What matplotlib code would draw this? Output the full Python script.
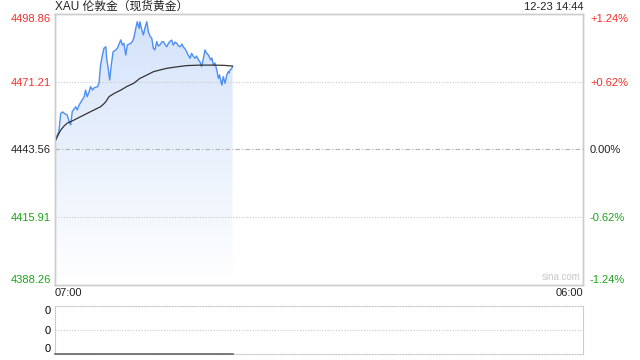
import numpy as np
import matplotlib
matplotlib.use("Agg")
import matplotlib.pyplot as plt
from matplotlib.colors import LinearSegmentedColormap
from matplotlib.patches import Polygon

plt.rcParams['font.family'] = ['Liberation Sans', 'Noto Sans CJK SC', 'DejaVu Sans']

title = "XAU 伦敦金（现货黄金）"
stamp = "12-23 14:44"

# minutes after 07:00, price
minutes = [0, 2, 10, 15, 20, 24, 32, 37, 41, 45, 50, 54, 58, 63, 71, 76, 80, 84, 89, 93,
           98, 102, 111, 115, 119, 124, 128, 133, 135, 139, 143, 147, 152, 159, 163, 172,
           176, 180, 185, 189, 198, 202, 206, 211, 215, 220, 222, 227, 231, 235, 240, 244,
           248, 253, 257, 261, 266, 270, 274, 279, 283, 287, 292, 297, 301, 305, 309, 314,
           318, 323, 327, 332, 335, 340, 344, 348, 353, 357, 361, 366, 370, 375, 379, 383,
           388, 392, 396, 401, 407, 410, 414, 418, 423, 427, 430, 434, 436, 438, 440, 442,
           444, 447, 449, 453, 455, 457, 461, 464]
prices = [4446.7, 4448.1, 4450.8, 4458.3, 4458.9, 4458.3, 4457.6, 4454.9, 4453.6, 4459.0,
          4460.1, 4461.0, 4459.7, 4461.7, 4463.8, 4465.0, 4467.8, 4465.1, 4467.0, 4469.2,
          4467.8, 4468.7, 4469.2, 4470.6, 4478.0, 4482.1, 4484.9, 4485.5, 4480.8, 4476.7,
          4471.9, 4478.0, 4483.5, 4484.2, 4484.9, 4488.3, 4486.2, 4486.9, 4482.1, 4486.2,
          4486.9, 4487.6, 4489.0, 4493.0, 4495.7, 4493.0, 4495.7, 4492.3, 4490.3, 4493.1,
          4495.7, 4491.6, 4489.9, 4488.9, 4484.9, 4484.2, 4487.6, 4485.8, 4486.2, 4487.4,
          4487.6, 4486.6, 4485.5, 4487.0, 4487.8, 4488.2, 4486.2, 4487.4, 4486.9, 4485.8,
          4485.5, 4486.6, 4485.5, 4484.6, 4483.5, 4482.1, 4480.8, 4482.8, 4481.7, 4480.8,
          4481.7, 4480.1, 4479.3, 4477.4, 4480.9, 4484.2, 4482.9, 4482.1, 4480.1, 4480.9,
          4478.0, 4478.9, 4476.0, 4472.6, 4474.0, 4471.1, 4469.9, 4471.9, 4473.3, 4471.9,
          4470.6, 4472.3, 4474.0, 4475.3, 4474.8, 4476.0, 4476.4, 4477.4]
volumes = [0] * len(minutes)

avg_minutes = [0, 2, 7, 15, 24, 32, 50, 65, 84, 102, 119, 127, 133, 141, 154, 172, 188,
               206, 222, 233, 257, 274, 292, 314, 344, 379, 414, 442, 464]
avg_prices = [4447.0, 4447.4, 4449.1, 4451.5, 4453.2, 4454.3, 4455.6, 4456.8, 4458.3,
              4459.7, 4461.0, 4462.1, 4463.1, 4465.1, 4466.4, 4467.8, 4469.3, 4470.6,
              4472.6, 4473.4, 4475.3, 4476.0, 4476.7, 4477.2, 4477.8, 4478.0, 4478.0,
              4477.9, 4477.6]

price_ticks = [4388.26, 4415.91, 4443.56, 4471.21, 4498.86]
pct_labels = ["-1.24%", "-0.62%", "0.00%", "+0.62%", "+1.24%"]
tick_colors = ["#1aa31a", "#1aa31a", "#222222", "#f0302c", "#f0302c"]
time_labels = ["07:00", "06:00"]
total_minutes = 1380

fig = plt.figure(figsize=(6.4, 3.6), dpi=100)
ax = fig.add_axes([55 / 640, 75 / 360, 528 / 640, 271 / 360])
ax.set_xlim(0, total_minutes)
ax.set_ylim(price_ticks[0], price_ticks[-1])

# gradient fill under the price line
cmap = LinearSegmentedColormap.from_list("fade", ["#ffffff", "#d3e2fa"])
grad = np.linspace(0, 1, 256).reshape(-1, 1)
im = ax.imshow(grad, cmap=cmap, aspect="auto", origin="lower",
               extent=[0, total_minutes, price_ticks[0], price_ticks[-1]], zorder=1)
poly = Polygon(list(zip(minutes, prices)) + [(minutes[-1], price_ticks[0]), (0, price_ticks[0])],
               closed=True, transform=ax.transData, facecolor="none", edgecolor="none")
ax.add_patch(poly)
im.set_clip_path(poly)

for v in price_ticks[1:-1]:
    if v == price_ticks[2]:
        ax.axhline(v, color="#b0b0b0", lw=0.8, ls=(0, (4, 2, 1, 2)), zorder=2)
    else:
        ax.axhline(v, color="#c8c8c8", lw=0.8, ls=(0, (1, 1.5)), zorder=2)

ax.plot(minutes, prices, color="#4d8ff2", lw=1.0, zorder=3)
ax.plot(avg_minutes, avg_prices, color="#333333", lw=0.9, zorder=4)

ax.set_xticks([])
ax.set_yticks(price_ticks)
ax.set_yticklabels([f"{v:.2f}" for v in price_ticks], fontsize=8)
ax.tick_params(axis="y", length=0, pad=3)
for lab, c in zip(ax.get_yticklabels(), tick_colors):
    lab.set_color(c)
ax.get_yticklabels()[0].set_va("bottom")
ax.get_yticklabels()[-1].set_va("top")

axr = ax.twinx()
axr.set_ylim(ax.get_ylim())
axr.set_yticks(price_ticks)
axr.set_yticklabels(pct_labels, fontsize=8)
axr.tick_params(axis="y", length=0, pad=5)
for lab, c in zip(axr.get_yticklabels(), tick_colors):
    lab.set_color(c)
axr.get_yticklabels()[0].set_va("bottom")
axr.get_yticklabels()[-1].set_va("top")

for a in (ax, axr):
    for s in a.spines.values():
        s.set_color("#cccccc")
        s.set_linewidth(1.0)

ax.text(0.995, 0.012, "sina.com", transform=ax.transAxes, ha="right", va="bottom",
        fontsize=7, color="#c8c8c8")

fig.text(55 / 640, 1 - 7 / 360, title, ha="left", va="center", fontsize=8.5, color="#222222")
fig.text(583 / 640, 1 - 7 / 360, stamp, ha="right", va="center", fontsize=8, color="#222222")
fig.text(55 / 640, 1 - 293 / 360, time_labels[0], ha="left", va="center", fontsize=8, color="#222222")
fig.text(583 / 640, 1 - 293 / 360, time_labels[1], ha="right", va="center", fontsize=8, color="#222222")

# volume panel
axv = fig.add_axes([55 / 640, 6 / 360, 528 / 640, 48 / 360])
axv.set_xlim(0, total_minutes)
axv.set_ylim(0, 1)
axv.plot(minutes, volumes, color="#666666", lw=1.2, zorder=3, clip_on=False)
axv.axhline(0.5, color="#c8c8c8", lw=0.8, ls=(0, (1, 1.5)))
axv.set_xticks([])
axv.set_yticks([0, 0.5, 1])
axv.set_yticklabels(["0", "0", "0"], fontsize=8)
axv.tick_params(axis="y", length=0, pad=3)
axv.get_yticklabels()[0].set_va("bottom")
axv.get_yticklabels()[-1].set_va("top")
for side in ("left", "right"):
    axv.spines[side].set_color("#cccccc")
for side in ("top", "bottom"):
    axv.spines[side].set_color("#c8c8c8")
    axv.spines[side].set_linestyle((0, (1, 1.5)))
    axv.spines[side].set_linewidth(0.8)

fig.savefig("out.png", dpi=100)
